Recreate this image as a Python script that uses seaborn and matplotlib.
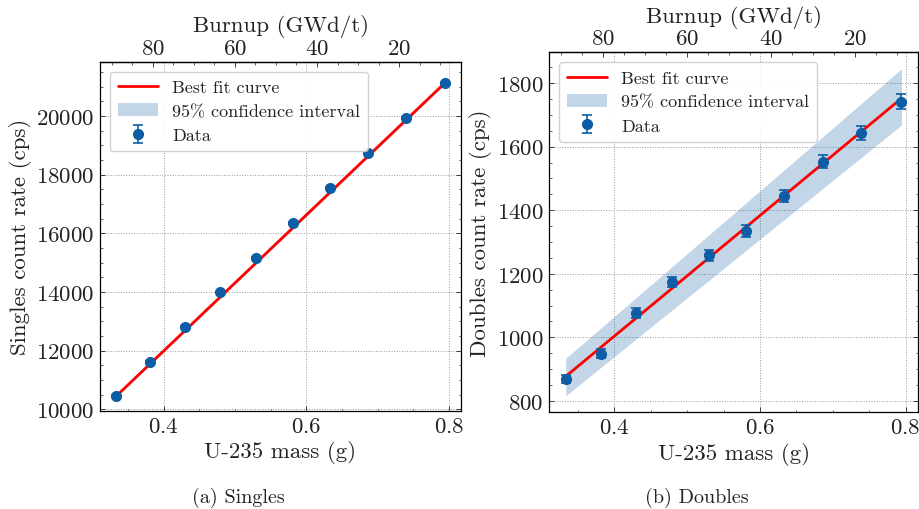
import numpy as np
import pandas as pd
import matplotlib
matplotlib.use("Agg")
import matplotlib.pyplot as plt
import seaborn as sns
from matplotlib.ticker import AutoMinorLocator, MultipleLocator

# ---------------- data ----------------
mass = [0.3333, 0.3814, 0.4294, 0.4790, 0.5295, 0.5808, 0.6332, 0.6860, 0.7392, 0.7944]

singles = [10455, 11620, 12799, 13988, 15170, 16342, 17554, 18753, 19942, 21121]
singles_err = [25, 27, 28, 30, 31, 32, 33, 34, 35, 36]
singles_fit_x = [0.3333, 0.7944]
singles_fit = [10450, 21130]
singles_band_lo = [10410, 21070]
singles_band_hi = [10490, 21190]

doubles = [868, 949, 1076, 1174, 1258, 1335, 1446, 1553, 1644, 1742]
doubles_err = [13, 14, 15, 16, 17, 18, 19, 21, 22, 23]
doubles_fit_x = [0.3333, 0.7944]
doubles_fit = [877, 1752]
doubles_band_lo = [816, 1668]
doubles_band_hi = [934, 1845]

burnup_ticks = [80, 60, 40, 20]
# burnup (GWd/t) = BU_A - BU_B * mass (g)
BU_A = 146.77
BU_B = 173.6

# ---------------- style ----------------
sns.set_style("ticks")
plt.rcParams.update({
    "font.family": ["cmr10", "DejaVu Serif"],
    "mathtext.fontset": "cm",
    "axes.formatter.use_mathtext": True,
    "axes.unicode_minus": False,
    "xtick.direction": "in",
    "ytick.direction": "in",
    "xtick.major.size": 3.5,
    "ytick.major.size": 3.5,
    "xtick.minor.size": 1.8,
    "ytick.minor.size": 1.8,
    "xtick.major.width": 0.6,
    "ytick.major.width": 0.6,
    "xtick.minor.width": 0.5,
    "ytick.minor.width": 0.5,
    "axes.linewidth": 0.9,
    "axes.edgecolor": "black",
    "text.color": "#222222",
    "axes.labelcolor": "#222222",
    "xtick.color": "#222222",
    "ytick.color": "#222222",
})

BLUE = "#0C5DA5"
FS_TICK = 16.5
FS_LABEL = 16.5
FS_LEG = 13
FS_CAP = 14.5

fig = plt.figure(figsize=(9.2, 5.1), dpi=100)
ax1 = fig.add_axes([0.1084, 0.1922, 0.3930, 0.6849])
ax2 = fig.add_axes([0.5967, 0.1896, 0.4014, 0.7059])


def fwd(m):
    return BU_A - BU_B * np.asarray(m)


def inv(b):
    return (BU_A - np.asarray(b)) / BU_B


def draw(ax, y, yerr, fx, fy, blo, bhi, ylabel, ylim, ymajor):
    df_fit = pd.DataFrame({"x": fx, "y": fy})
    sns.lineplot(data=df_fit, x="x", y="y", ax=ax, color="red", lw=2.0,
                 label="Best fit curve", legend=False, zorder=3)
    band = ax.fill_between(fx, blo, bhi, color=BLUE, alpha=0.25, lw=0,
                           label="95% confidence interval", zorder=1)
    eb = ax.errorbar(mass, y, yerr=yerr, fmt="o", color=BLUE, ms=7,
                     elinewidth=1.2, capsize=3.5, capthick=1.2,
                     label="Data", zorder=4)
    line = ax.get_lines()[0]
    ax.legend([line, band, eb], ["Best fit curve", "95% confidence interval", "Data"],
              loc="upper left", fontsize=FS_LEG, frameon=True, fancybox=True,
              edgecolor="0.8", framealpha=0.9, borderpad=0.45,
              handlelength=2.2, labelspacing=0.45, borderaxespad=0.55)
    ax.set_ylim(*ylim)
    ax.margins(x=0.05)
    ax.xaxis.set_major_locator(MultipleLocator(0.2))
    ax.yaxis.set_major_locator(MultipleLocator(ymajor))
    ax.xaxis.set_minor_locator(AutoMinorLocator())
    ax.yaxis.set_minor_locator(AutoMinorLocator())
    ax.tick_params(which="both", top=False, right=True, labelsize=FS_TICK)
    ax.tick_params(which="major", pad=4)
    ax.grid(True, which="major", linestyle=":", color="0.6", lw=0.7)
    ax.set_axisbelow(True)
    ax.set_xlabel("U-235 mass (g)", fontsize=FS_LABEL, labelpad=3)
    ax.set_ylabel(ylabel, fontsize=FS_LABEL, labelpad=3)

    sec = ax.secondary_xaxis("top", functions=(fwd, inv))
    sec.set_xticks(burnup_ticks)
    sec.xaxis.set_minor_locator(AutoMinorLocator())
    sec.tick_params(which="both", direction="in", labelsize=FS_TICK, pad=3)
    sec.set_xlabel("Burnup (GWd/t)", fontsize=FS_LABEL, labelpad=5)


draw(ax1, singles, singles_err, singles_fit_x, singles_fit,
     singles_band_lo, singles_band_hi, "Singles count rate (cps)",
     (9945, 21855), 2000)
draw(ax2, doubles, doubles_err, doubles_fit_x, doubles_fit,
     doubles_band_lo, doubles_band_hi, "Doubles count rate (cps)",
     (764, 1897), 200)

fig.text(238 / 920, 1 - 498 / 510, "(a) Singles", ha="center", va="center", fontsize=FS_CAP)
fig.text(697 / 920, 1 - 498 / 510, "(b) Doubles", ha="center", va="center", fontsize=FS_CAP)

fig.savefig("out.png", dpi=100)
